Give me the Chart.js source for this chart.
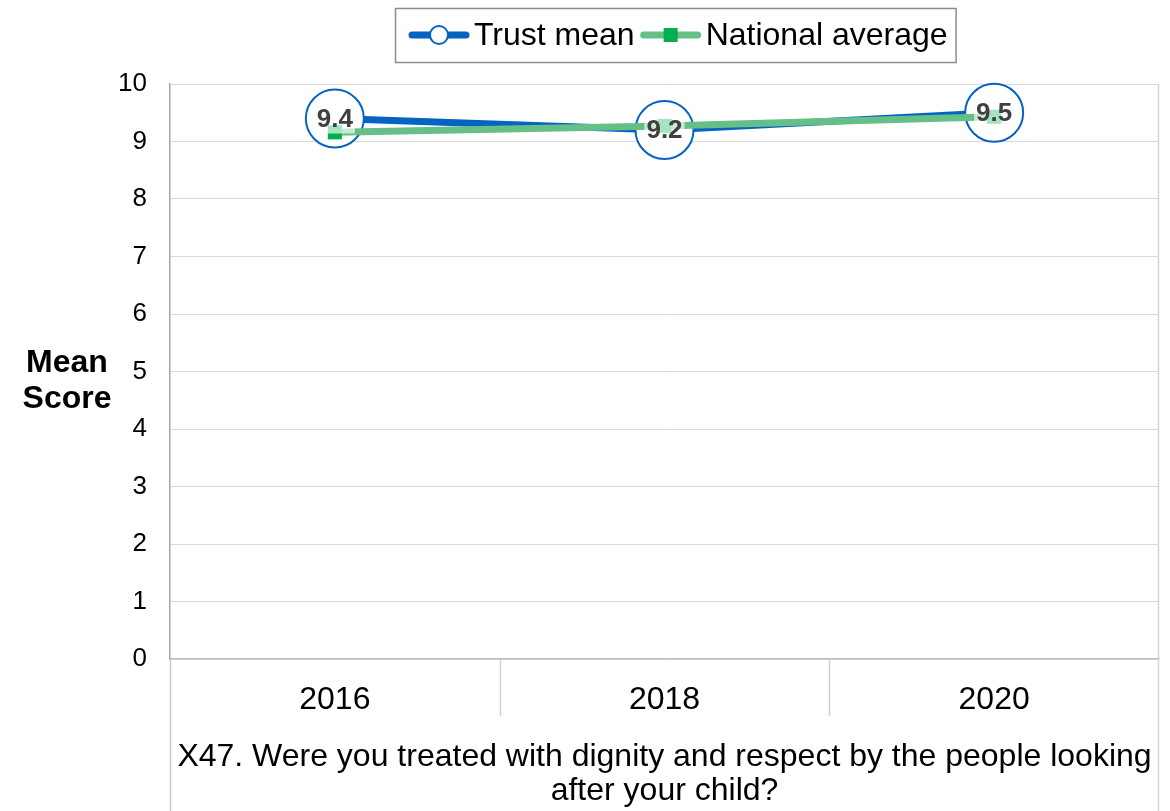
<!DOCTYPE html>
<html>
<head>
<meta charset="utf-8">
<script src="https://cdn.jsdelivr.net/npm/chart.js@4/dist/chart.umd.min.js"></script>
<style>
  html, body { margin: 0; padding: 0; background: #ffffff; }
  canvas { display: block; }
</style>
</head>
<body>
<canvas id="chart" width="1170" height="811"></canvas>
<script>
// Survey years and mean scores
const years = ['2016', '2018', '2020'];
const trustMean = [9.4, 9.2, 9.5];
const nationalAverage = [9.16, 9.27, 9.43];
const seriesNames = ['Trust mean', 'National average'];
const yAxisLabel = ['Mean', 'Score'];
const questionText = [
  'X47. Were you treated with dignity and respect by the people looking',
  'after your child?'
];
const yMin = 0, yMax = 10, yStep = 1;

const FONT = '"Liberation Sans", Arial, Helvetica, sans-serif';
const BLUE = '#0563C1';
const GREEN_LINE = '#66BF87';
const GREEN_MARK = '#00B050';

// Value labels centred on the trust-mean markers, on a pale backing box
const valueLabels = {
  id: 'valueLabels',
  afterDatasetsDraw(chart) {
    const idx = chart.data.datasets.findIndex(d => d.label === seriesNames[0]);
    const meta = chart.getDatasetMeta(idx);
    const ctx = chart.ctx;
    ctx.save();
    ctx.font = 'bold 26px ' + FONT;
    ctx.textAlign = 'center';
    ctx.textBaseline = 'middle';
    meta.data.forEach((pt, i) => {
      const txt = chart.data.datasets[idx].data[i].toFixed(1);
      const w = ctx.measureText(txt).width;
      ctx.fillStyle = 'rgba(255,255,255,0.65)';
      ctx.fillRect(pt.x - w / 2 - 2, pt.y - 14, w + 4, 29);
      ctx.fillStyle = '#404040';
      ctx.fillText(txt, pt.x, pt.y + 1);
    });
    ctx.restore();
  }
};

// Category divider lines under the axis, outer frame, and the side caption
const frame = {
  id: 'frame',
  afterDraw(chart) {
    const ctx = chart.ctx;
    const a = chart.chartArea;
    const xs = chart.scales.x;
    const n = years.length;
    const step = (a.right - a.left) / n;
    ctx.save();
    ctx.lineWidth = 1.5;
    ctx.strokeStyle = '#d0d0d0';
    for (let i = 1; i < n; i++) {
      const x = Math.round(a.left + i * step) + 0.5;
      ctx.beginPath();
      ctx.moveTo(x, a.bottom);
      ctx.lineTo(x, a.bottom + 57);
      ctx.stroke();
    }
    ctx.strokeStyle = '#c8c8c8';
    ctx.beginPath();
    ctx.moveTo(a.left + 0.5, a.bottom);
    ctx.lineTo(a.left + 0.5, xs.bottom);
    ctx.stroke();
    ctx.strokeStyle = '#d6d6d6';
    ctx.beginPath();
    ctx.moveTo(a.right - 0.5, a.top);
    ctx.lineTo(a.right - 0.5, xs.bottom);
    ctx.stroke();

    // side caption
    ctx.fillStyle = '#000000';
    ctx.font = 'bold 32px ' + FONT;
    ctx.textAlign = 'center';
    ctx.textBaseline = 'middle';
    const cy = (a.top + a.bottom) / 2;
    ctx.fillText(yAxisLabel[0], 67, cy - 8);
    ctx.fillText(yAxisLabel[1], 67, cy + 28);
    ctx.restore();
  }
};

// Boxed legend with line-and-marker symbols
const boxLegend = {
  id: 'boxLegend',
  afterDraw(chart) {
    const ctx = chart.ctx;
    const order = seriesNames.map(n => chart.data.datasets.find(d => d.label === n));
    const left = 395, top = 8, height = 54;
    const symW = 60, textGap = 5, itemGap = 6, padL = 14, padR = 8;
    const cy = top + height / 2;
    ctx.save();
    ctx.font = '32px ' + FONT;
    let total = padL;
    const widths = order.map(d => ctx.measureText(d.label).width);
    widths.forEach((w, i) => { total += symW + textGap + w + (i < widths.length - 1 ? itemGap : 0); });
    total += padR;
    ctx.strokeStyle = '#8c8c8c';
    ctx.lineWidth = 1.5;
    ctx.strokeRect(left + 0.5, top + 0.5, total, height);
    let x = left + padL;
    order.forEach((d, i) => {
      ctx.strokeStyle = d.borderColor;
      ctx.lineWidth = 7;
      ctx.lineCap = 'round';
      ctx.beginPath();
      ctx.moveTo(x + 3, cy);
      ctx.lineTo(x + symW - 3, cy);
      ctx.stroke();
      const mx = x + symW / 2;
      if (d.pointStyle === 'rect') {
        ctx.fillStyle = d.pointBackgroundColor;
        ctx.fillRect(mx - 7, cy - 7, 14, 14);
      } else {
        ctx.fillStyle = '#ffffff';
        ctx.strokeStyle = d.pointBorderColor;
        ctx.lineWidth = 2;
        ctx.beginPath();
        ctx.arc(mx, cy, 9, 0, Math.PI * 2);
        ctx.fill();
        ctx.stroke();
      }
      ctx.fillStyle = '#000000';
      ctx.textAlign = 'left';
      ctx.textBaseline = 'middle';
      ctx.fillText(d.label, x + symW + textGap, cy + 1);
      x += symW + textGap + widths[i] + itemGap;
    });
    ctx.restore();
  }
};

new Chart(document.getElementById('chart'), {
  type: 'line',
  data: {
    labels: years,
    datasets: [
      {
        label: seriesNames[1],
        data: nationalAverage,
        borderColor: GREEN_LINE,
        borderWidth: 7,
        pointStyle: 'rect',
        pointRadius: 10,
        pointBackgroundColor: GREEN_MARK,
        pointBorderWidth: 0,
        tension: 0,
        clip: false
      },
      {
        label: seriesNames[0],
        data: trustMean,
        borderColor: BLUE,
        borderWidth: 7,
        pointStyle: 'circle',
        pointRadius: 29,
        pointBackgroundColor: '#ffffff',
        pointBorderColor: BLUE,
        pointBorderWidth: 2,
        tension: 0,
        clip: false
      }
    ]
  },
  options: {
    responsive: false,
    devicePixelRatio: 1,
    animation: false,
    layout: { autoPadding: false, padding: { top: 84, right: 11, left: 0, bottom: 0 } },
    plugins: {
      legend: { display: false },
      tooltip: { enabled: false }
    },
    scales: {
      x: {
        offset: true,
        grid: { display: false },
        border: { display: true, color: '#bfbfbf', width: 1.5 },
        ticks: {
          color: '#000000',
          font: { family: FONT, size: 32 },
          padding: 14,
          maxRotation: 0
        },
        title: {
          display: true,
          text: questionText,
          color: '#000000',
          font: { family: FONT, size: 32, lineHeight: 1.05 },
          padding: { top: 0, bottom: 3 }
        },
        afterFit(scale) {
          scale.height = 152;
          scale.paddingLeft = 0;
          scale.paddingRight = 0;
        }
      },
      y: {
        min: yMin,
        max: yMax,
        grid: { color: '#d9d9d9', lineWidth: 1, drawTicks: false },
        border: { display: true, color: '#a6a6a6', width: 1.5 },
        ticks: {
          stepSize: yStep,
          color: '#000000',
          font: { family: FONT, size: 26 },
          padding: 23
        },
        afterFit(scale) { scale.width = 170; }
      }
    }
  },
  plugins: [valueLabels, frame, boxLegend]
});
</script>
</body>
</html>
